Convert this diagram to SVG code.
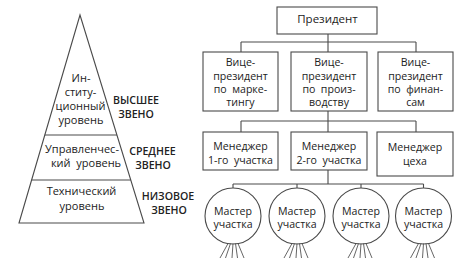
<svg xmlns="http://www.w3.org/2000/svg" width="472" height="264" viewBox="0 0 472 264">
<style>
.ln{fill:none;stroke:#4a4a4a;stroke-width:1.1}
.fr{fill:none;stroke:#555;stroke-width:0.9}
.bx{fill:#fff;stroke:#4a4a4a;stroke-width:1.1}
.t{font-family:"Open Sans","Noto Sans","Liberation Sans",sans-serif;font-size:10.6px;fill:#222;text-anchor:middle}
.tp{font-family:"Open Sans","Noto Sans","Liberation Sans",sans-serif;font-size:11px;fill:#222;text-anchor:middle}
.tb{font-family:"Open Sans","Noto Sans","Liberation Sans",sans-serif;font-size:10.6px;font-weight:600;fill:#222;text-anchor:middle}
.pr{font-family:"Open Sans","Noto Sans","Liberation Sans",sans-serif;font-size:11.5px;fill:#222;text-anchor:middle}
</style>
<g id="pyramid">
<polygon class="ln" points="80,15 19,223 144,223"/>
<line class="ln" x1="44.8" y1="135" x2="117" y2="135"/>
<line class="ln" x1="31.6" y1="180" x2="130.8" y2="180"/>
<text class="tp" x="81" y="82">Ин-</text>
<text class="tp" x="80.5" y="96">ститу-</text>
<text class="tp" x="80.5" y="110">ционный</text>
<text class="tp" x="81" y="124">уровень</text>
<text class="tp" x="82" y="153">Управленчес-</text>
<text class="tp" x="86" y="167" xml:space="preserve">кий  уровень</text>
<text class="tp" x="81.5" y="195">Технический</text>
<text class="tp" x="82" y="210">уровень</text>
</g>
<g id="level-labels">
<text class="tb" x="136" y="104">ВЫСШЕЕ</text>
<text class="tb" x="136" y="117.5">ЗВЕНО</text>
<text class="tb" x="152.5" y="155">СРЕДНЕЕ</text>
<text class="tb" x="153" y="168.5">ЗВЕНО</text>
<text class="tb" x="168" y="200">НИЗОВОЕ</text>
<text class="tb" x="169" y="213.5">ЗВЕНО</text>
</g>
<g id="connectors">
<path class="ln" d="M328,34V42M241,42H416M241,42V52M328,42V52M416,42V52"/>
<path class="ln" d="M328,111V121M241,121H416M241,121V132M328,121V132M416,121V132"/>
<path class="ln" d="M328,170V184M233,184H423.5M233,184V188M297,184V188M361,184V188M423.5,184V188"/>
</g>
<g id="president">
<rect class="bx" x="277" y="7" width="100" height="27"/>
<text class="pr" x="327.5" y="23">Президент</text>
</g>
<g id="vp-marketing">
<rect class="bx" x="203" y="52" width="75" height="59"/>
<text class="t" x="240.5" y="66">Вице-</text>
<text class="t" x="240.5" y="79.5">президент</text>
<text class="t" x="240.5" y="93" xml:space="preserve">по  марке-</text>
<text class="t" x="240.5" y="106">тингу</text>
</g>
<g id="vp-production">
<rect class="bx" x="291" y="52" width="76" height="59"/>
<text class="t" x="329" y="66">Вице-</text>
<text class="t" x="329" y="79.5">президент</text>
<text class="t" x="329" y="93" xml:space="preserve">по  произ-</text>
<text class="t" x="329" y="106">водству</text>
</g>
<g id="vp-finance">
<rect class="bx" x="378" y="52" width="75" height="59"/>
<text class="t" x="415.5" y="66">Вице-</text>
<text class="t" x="415.5" y="79.5">президент</text>
<text class="t" x="415.5" y="93" xml:space="preserve">по  финан-</text>
<text class="t" x="415.5" y="106">сам</text>
</g>
<g id="manager-1">
<rect class="bx" x="203" y="132" width="75" height="38"/>
<text class="t" x="240.5" y="150">Менеджер</text>
<text class="t" x="240.5" y="163.5" xml:space="preserve">1-го  участка</text>
</g>
<g id="manager-2">
<rect class="bx" x="291" y="132" width="76" height="38"/>
<text class="t" x="329" y="150">Менеджер</text>
<text class="t" x="329" y="163.5" xml:space="preserve">2-го  участка</text>
</g>
<g id="manager-shop">
<rect class="bx" x="377" y="132" width="76" height="44"/>
<text class="t" x="415" y="151">Менеджер</text>
<text class="t" x="415" y="165">цеха</text>
</g>
<g id="master-1">
<circle class="bx" cx="233" cy="216" r="28"/>
<text class="t" x="233" y="215">Мастер</text>
<text class="t" x="233" y="228">участка</text>
<path class="fr" d="M228,243.5L220,258M230.5,243.5L225.5,258M233,243.5L232,258M235.5,243.5L237.5,258M238,243.5L244,258"/>
</g>
<g id="master-2">
<circle class="bx" cx="297" cy="216" r="28"/>
<text class="t" x="297" y="215">Мастер</text>
<text class="t" x="297" y="228">участка</text>
<path class="fr" d="M292,243.5L284,258M294.5,243.5L289.5,258M297,243.5L296,258M299.5,243.5L301.5,258M302,243.5L308,258"/>
</g>
<g id="master-3">
<circle class="bx" cx="361" cy="216" r="28"/>
<text class="t" x="361" y="215">Мастер</text>
<text class="t" x="361" y="228">участка</text>
<path class="fr" d="M356,243.5L348,258M358.5,243.5L353.5,258M361,243.5L360,258M363.5,243.5L365.5,258M366,243.5L372,258"/>
</g>
<g id="master-4">
<circle class="bx" cx="423.5" cy="216" r="28"/>
<text class="t" x="423.5" y="215">Мастер</text>
<text class="t" x="423.5" y="228">участка</text>
<path class="fr" d="M418.5,243.5L410.5,258M421,243.5L416,258M423.5,243.5L422.5,258M426,243.5L428,258M428.5,243.5L434.5,258"/>
</g>
</svg>
